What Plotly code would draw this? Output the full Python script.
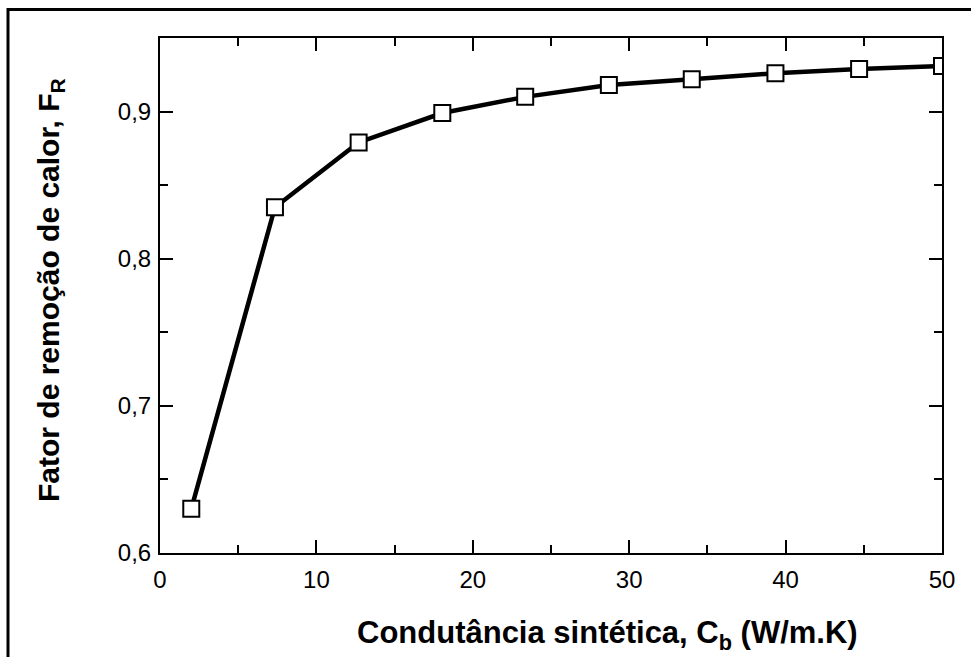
import plotly.graph_objects as go

cb = [2.0, 7.35, 12.7, 18.05, 23.35, 28.7, 34.0, 39.35, 44.7, 50.0]
fr = [0.630, 0.835, 0.879, 0.899, 0.910, 0.918, 0.922, 0.926, 0.929, 0.931]

x_ticks = [0, 10, 20, 30, 40, 50]
y_ticks = [0.6, 0.7, 0.8, 0.9]
y_tick_text = ["0,6", "0,7", "0,8", "0,9"]

x_title = "<b>Condutância sintética, C<sub>b</sub> (W/m.K)</b>"
y_title = "<b>Fator de remoção de calor, F<sub>R</sub></b>"

W, H = 971, 657
L, R, T, B = 160, 29, 38, 104

fig = go.Figure()
fig.add_trace(go.Scatter(
    x=cb, y=fr, mode="lines+markers",
    line=dict(color="black", width=4.5),
    marker=dict(symbol="square", size=16, color="white",
                line=dict(color="black", width=2)),
    showlegend=False,
))

font = "Liberation Sans, Arial, sans-serif"
axis_common = dict(
    showline=True, linecolor="black", linewidth=2,
    mirror="allticks", ticks="inside", ticklen=13, tickwidth=2,
    tickcolor="black", showgrid=False, zeroline=False,
    tickfont=dict(family=font, size=24, color="black"),
)

fig.update_xaxes(
    range=[0, 50], tickvals=x_ticks, ticktext=[str(v) for v in x_ticks],
    minor=dict(ticks="inside", dtick=5, ticklen=8, tickwidth=2, tickcolor="black"),
    ticklabelstandoff=4,
    **axis_common,
)
fig.update_yaxes(
    range=[0.6, 0.95], tickvals=y_ticks, ticktext=y_tick_text,
    minor=dict(ticks="inside", dtick=0.05, ticklen=8, tickwidth=2, tickcolor="black"),
    ticklabelstandoff=2,
    **axis_common,
)

pw, ph = W - L - R, H - T - B

fig.add_annotation(
    text=x_title, xref="paper", yref="paper",
    x=(607 - L) / pw, y=(H - B - 635) / ph,
    xanchor="center", yanchor="middle", showarrow=False,
    font=dict(family=font, size=31, color="black"),
)
fig.add_annotation(
    text=y_title, xref="paper", yref="paper",
    x=(50 - L) / pw, y=(H - B - 290) / ph,
    xanchor="center", yanchor="middle", showarrow=False, textangle=-90,
    font=dict(family=font, size=30, color="black"),
)

fig.add_shape(
    type="rect", xref="paper", yref="paper",
    x0=(8 - L) / pw, x1=(W + 20 - L) / pw,
    y0=-(B + 20) / ph, y1=(H - B - 9.5) / ph,
    line=dict(color="black", width=3), fillcolor="rgba(0,0,0,0)",
)

fig.update_layout(
    width=W, height=H,
    margin=dict(l=L, r=R, t=T, b=B),
    paper_bgcolor="white", plot_bgcolor="white",
)

fig.write_html("out.html")
